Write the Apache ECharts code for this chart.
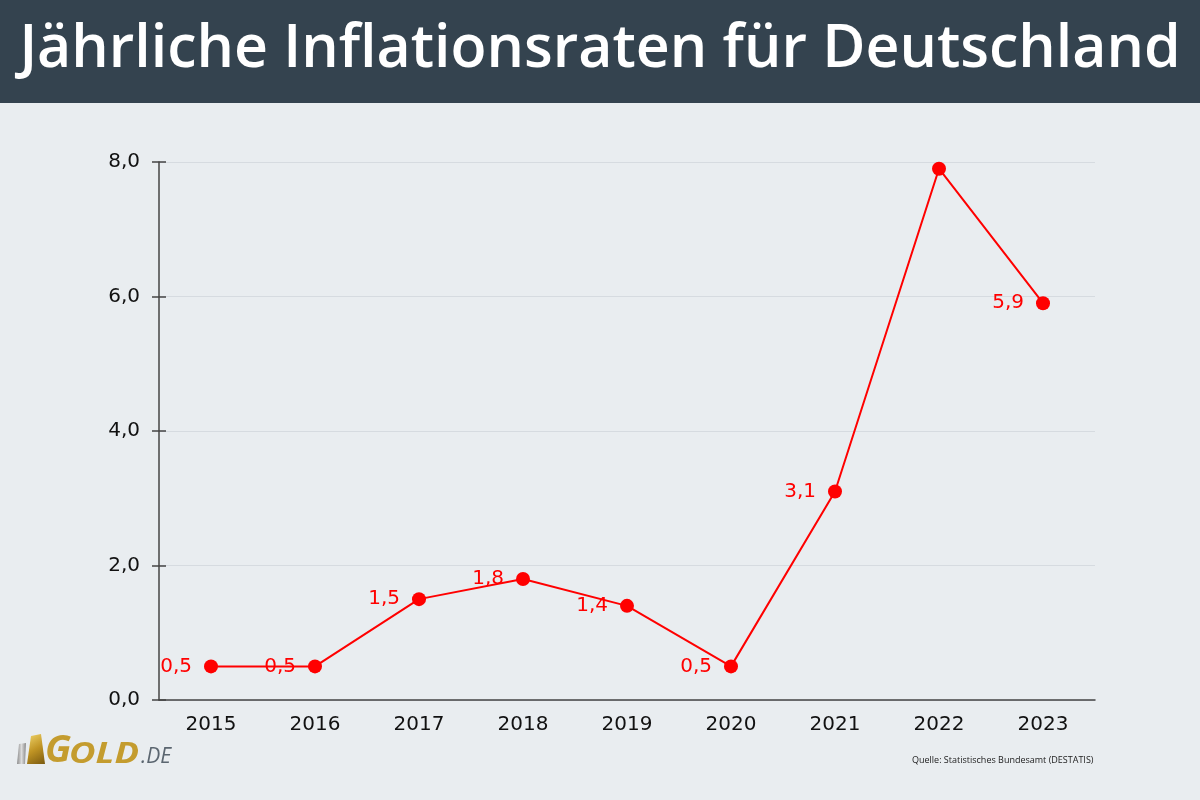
<!DOCTYPE html>
<html>
<head>
<meta charset="utf-8">
<script src="https://cdn.jsdelivr.net/npm/echarts@6/dist/echarts.min.js"></script>
<style>
html,body{margin:0;padding:0;background:#e9edf0;}
#c{width:1200px;height:800px;}
</style>
</head>
<body>
<div id="c"></div>
<script>
const titleText = 'Jährliche Inflationsraten für Deutschland';
const sourceText = 'Quelle: Statistisches Bundesamt (DESTATIS)';
const years = ['2015','2016','2017','2018','2019','2020','2021','2022','2023'];
const inflation = [0.5, 0.5, 1.5, 1.8, 1.4, 0.5, 3.1, 7.9, 5.9];
const showLabel = [true, true, true, true, true, true, true, false, true];
const yTicks = [0, 2, 4, 6, 8];

const fmt = v => v.toFixed(1).replace('.', ',');

const chart = echarts.init(document.getElementById('c'), null, {renderer:'canvas'});
chart.setOption({
  backgroundColor: '#e9edf0',
  animation: false,
  grid: {left: 159, right: 105, top: 162, bottom: 100, containLabel: false},
  xAxis: {
    type: 'category',
    data: years,
    boundaryGap: true,
    axisLine: {show: true, lineStyle: {color: '#444', width: 1.5}},
    axisTick: {show: false},
    axisLabel: {color: '#111', fontFamily: 'DejaVu Sans', fontSize: 20, margin: 15}
  },
  yAxis: [{
    type: 'value',
    min: yTicks[0], max: yTicks[yTicks.length-1], interval: 2,
    axisLine: {show: true, lineStyle: {color: '#444', width: 1.5}},
    axisTick: {show: true, length: 7, lineStyle: {color: '#444', width: 1.5}},
    axisLabel: {color: '#111', fontFamily: 'DejaVu Sans', fontSize: 20, margin: 19, formatter: v => fmt(v)},
    splitLine: {show: true, lineStyle: {color: '#d6dbe0', width: 1}}
  },{
    type: 'value', position: 'left',
    min: yTicks[0], max: yTicks[yTicks.length-1], interval: 2,
    axisLine: {show: false},
    axisTick: {show: true, inside: true, length: 7, lineStyle: {color: '#444', width: 1.5}},
    axisLabel: {show: false},
    splitLine: {show: false}
  }],
  series: [{
    type: 'line',
    data: inflation.map((v, i) => ({value: v, label: {show: showLabel[i]}})),
    symbol: 'circle',
    symbolSize: 14,
    color: '#ff0000',
    lineStyle: {color: '#ff0000', width: 2},
    itemStyle: {color: '#ff0000'},
    label: {
      show: true, position: 'left', distance: 12,
      color: '#ff0000', fontFamily: 'DejaVu Sans', fontSize: 20,
      formatter: p => fmt(p.value)
    }
  }],
  graphic: [
    {type: 'rect', left: 0, top: 0, shape: {width: 1200, height: 103}, style: {fill: '#34434f'}, z: 10},
    {type: 'text', left: 'center', top: 21, style: {text: titleText, fill: '#ffffff', font: '600 59px "Open Sans"'}, z: 11},
    {type: 'text', left: 912, top: 756, style: {text: sourceText, fill: '#222', font: '9px "Open Sans"'}},
    {type: 'polygon', shape: {points: [[19,744],[26,743],[25,764],[17,764]]}, style: {fill: new echarts.graphic.LinearGradient(0,0,1,0,[{offset:0,color:'#8a8a8a'},{offset:0.5,color:'#dcdcdc'},{offset:1,color:'#8a8a8a'}])}},
    {type: 'polygon', shape: {points: [[31,736],[41,734],[45,764],[27,764]]}, style: {fill: new echarts.graphic.LinearGradient(0,0,1,1,[{offset:0,color:'#f0d46a'},{offset:0.5,color:'#c09424'},{offset:1,color:'#7a5a10'}])}},
    {type: 'text', x: 45, y: 770, style: {text: 'G', font: 'italic bold 38px "Open Sans"', fill: '#c49c2e', verticalAlign: 'bottom'}},
    {type: 'text', x: 69, y: 769, scaleX: 1.3, style: {text: 'OLD', font: 'italic bold 28px "Open Sans"', fill: '#c49c2e', verticalAlign: 'bottom'}},
    {type: 'text', x: 141, y: 768, style: {text: '.DE', font: 'italic 21px "Open Sans"', fill: '#5b6670', verticalAlign: 'bottom'}}
  ]
});
</script>
</body>
</html>
